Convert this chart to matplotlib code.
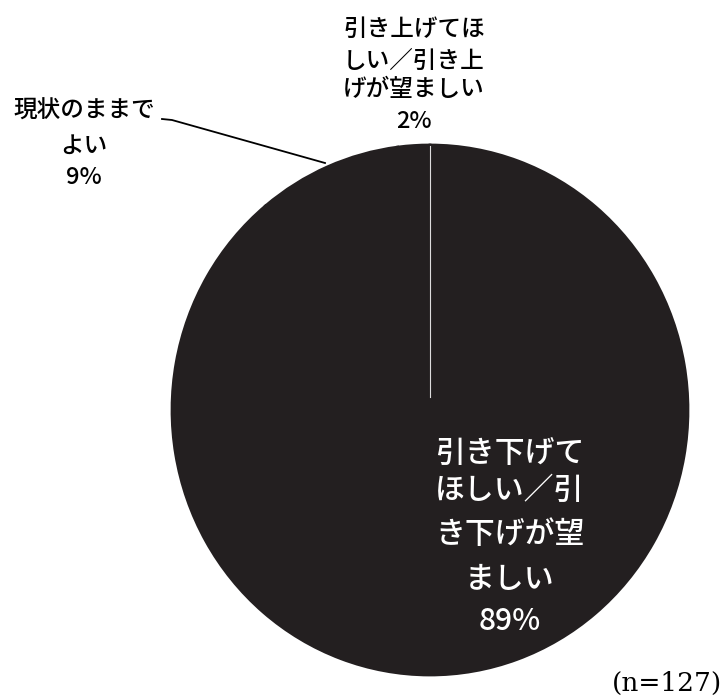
import matplotlib
matplotlib.use("Agg")
import matplotlib.pyplot as plt

plt.rcParams['font.family'] = ['Noto Sans CJK JP', 'DejaVu Sans']

# Data (clockwise from 12 o'clock)
categories = ["引き下げて\nほしい／引\nき下げが望\nましい",
              "現状のままで\nよい",
              "引き上げてほ\nしい／引き上\nげが望ましい"]
values = [89, 9, 2]
n_label = "(n=127)"

W, H = 724, 697
fig = plt.figure(figsize=(W / 100, H / 100), dpi=100)
ax = fig.add_axes([0, 0, 1, 1])

fill = '#231f20'
ax.pie(values, startangle=90, counterclock=False, radius=1.0,
       colors=[fill] * len(values),
       wedgeprops=dict(edgecolor=fill, linewidth=2.0))

# map pie to pixel geometry (slightly elliptical scan)
cx, cy, rx, ry = 430, 410, 258, 265
ax.set_aspect('auto')
ax.set_xlim((0 - cx) / rx, (W - cx) / rx)
ax.set_ylim((cy - H) / ry, cy / ry)
ax.axis('off')

# thin white boundary at the top
ax.plot([0, 0], [0.05, 0.995], color='white', lw=0.8, alpha=0.85)

def fx(x):
    return x / W

def fy(y):
    return 1 - y / H

def pct(v):
    return f"{v}%"

# inside label (89%)
big_lines = categories[0].split("\n") + [pct(values[0])]
for t, y in zip(big_lines, [453, 490, 535, 580, 622]):
    fig.text(fx(510), fy(y), t, color='white', fontsize=21.5,
             fontweight='medium', ha='center', va='center')

# left label (9%)
left_lines = categories[1].split("\n") + [pct(values[1])]
for t, y in zip(left_lines, [111, 146, 178]):
    fig.text(fx(84), fy(y), t, color='black', fontsize=17,
             fontweight='medium', ha='center', va='center')

# leader line
fig.add_artist(plt.Line2D([fx(162), fx(172), fx(325)],
                          [fy(119), fy(120), fy(163)],
                          color='black', lw=1.3))

# top label (2%)
top_lines = categories[2].split("\n") + [pct(values[2])]
for t, y in zip(top_lines, [29, 61, 90, 122]):
    fig.text(fx(414), fy(y), t, color='black', fontsize=17,
             fontweight='medium', ha='center', va='center')

fig.text(fx(722), fy(683), n_label, family='DejaVu Serif', fontsize=19,
         ha='right', va='center', color='black')

fig.savefig("out.png", dpi=100, facecolor='white')
